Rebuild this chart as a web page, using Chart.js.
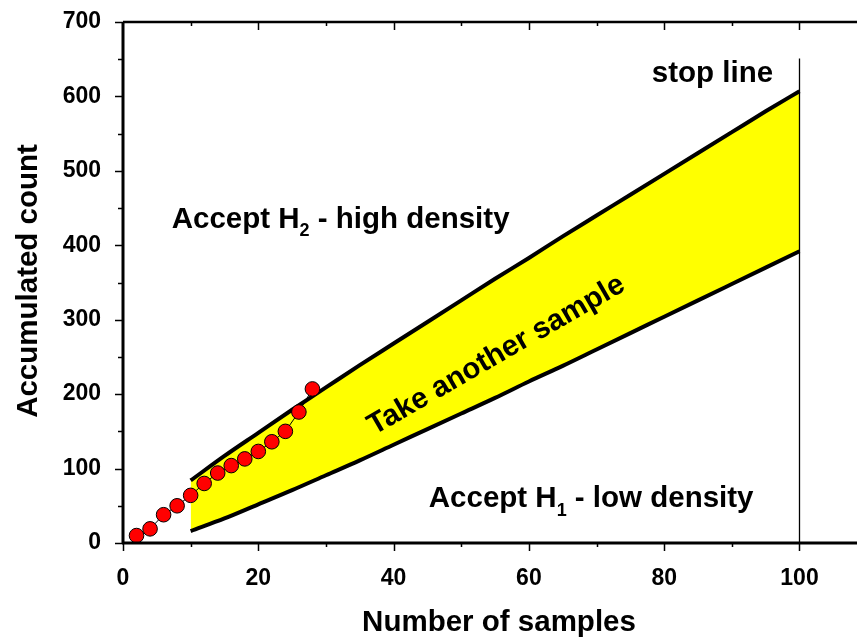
<!DOCTYPE html>
<html><head><meta charset="utf-8">
<script src="https://cdn.jsdelivr.net/npm/chart.js@4/dist/chart.umd.min.js"></script>
<style>html,body{margin:0;padding:0;background:#fff;}#wrap{width:857px;height:641px;position:relative;}</style>
</head><body><div id="wrap"><canvas id="c" width="857" height="641"></canvas></div>
<script>
// ---- data ----
const sampleX = [2,4,6,8,10,12,14,16,18,20,22,24,26,28];
const sampleCount = [10,19,38,50,64,80,94,104,113,123,136,150,176,207];
const boundaryX = [10,15,20,25,30,35,40,45,50,55,60,65,70,75,80,85,90,95,100];
const upperBoundary = [84,117,148,179,209,239,268,297,326,355,383,412,440,468,496,524,552,580,607];
const lowerBoundary = [16,33,52,71,91,111,132,153,174,195,217,238,260,282,304,326,348,370,392];
const stopLineX = [100,100];
const stopLineY = [0,651];
const xTickLabels = [0,20,40,60,80,100];
const yTickLabels = [0,100,200,300,400,500,600,700];

const FONT = "'Liberation Sans', Arial, Helvetica, sans-serif";
const pts = (xs, ys) => xs.map((v,i)=>({x:v, y:ys[i]}));

const minorOf = arr => arr.slice(0,-1).map((v,i)=>(v+arr[i+1])/2);

const axesPlugin = {
  id:'axesDraw',
  afterDatasetsDraw(chart){
    const {ctx, chartArea:a, scales:{x,y}} = chart;
    ctx.save();
    ctx.strokeStyle = '#000';
    ctx.lineWidth = 1.5;
    ctx.beginPath();
    const xMin = minorOf(xTickLabels);
    xTickLabels.forEach(v=>{const p=Math.round(x.getPixelForValue(v))+0.5;
      ctx.moveTo(p,a.bottom); ctx.lineTo(p,a.bottom+8);
      if(v>0){ctx.moveTo(p,a.top); ctx.lineTo(p,a.top+8);} });
    xMin.forEach(v=>{const p=Math.round(x.getPixelForValue(v))+0.5;
      ctx.moveTo(p,a.bottom); ctx.lineTo(p,a.bottom+4);
      ctx.moveTo(p,a.top); ctx.lineTo(p,a.top+4); });
    yTickLabels.forEach(v=>{const p=Math.round(y.getPixelForValue(v))+0.5;
      ctx.moveTo(a.left,p); ctx.lineTo(a.left-8,p); });
    minorOf(yTickLabels).forEach(v=>{const p=Math.round(y.getPixelForValue(v))+0.5;
      ctx.moveTo(a.left,p); ctx.lineTo(a.left-5,p); });
    ctx.stroke();
    // axis lines
    ctx.lineWidth = 3;
    ctx.beginPath();
    ctx.moveTo(a.left, a.top); ctx.lineTo(a.left, a.bottom+1);
    ctx.moveTo(a.left-1, a.bottom); ctx.lineTo(a.right, a.bottom);
    ctx.stroke();
    ctx.lineWidth = 2.5;
    ctx.beginPath();
    ctx.moveTo(a.left, a.top); ctx.lineTo(a.right, a.top);
    ctx.stroke();
    ctx.restore();
  }
};

const annotations = [
  {parts:[['stop line',0]], x:96.1, y:620, align:'right', size:29.5},
  {parts:[['Accept H',0],['2',1],[' - high density',0]], x:7.2, y:423, align:'left', size:29.5},
  {parts:[['Accept H',0],['1',1],[' - low density',0]], x:45.2, y:48, align:'left', size:29.5},
  {parts:[['Take another sample',0]], x:55.2, y:252, align:'center', size:29.5, rot:-30, baseline:'middle'}
];

const textPlugin = {
  id:'texts',
  afterDraw(chart){
    const {ctx, scales:{x,y}} = chart;
    ctx.save();
    ctx.fillStyle = '#000';
    annotations.forEach(an=>{
      const px = x.getPixelForValue(an.x), py = y.getPixelForValue(an.y);
      const main = `bold ${an.size}px ${FONT}`, sub = `bold ${Math.round(an.size*0.6)}px ${FONT}`;
      let total = 0;
      an.parts.forEach(([t,s])=>{ctx.font = s?sub:main; total += ctx.measureText(t).width;});
      ctx.save();
      ctx.translate(px, py);
      if(an.rot) ctx.rotate(an.rot*Math.PI/180);
      ctx.textBaseline = an.baseline || 'alphabetic';
      ctx.textAlign = 'left';
      let cx = an.align==='left'?0:(an.align==='right'?-total:-total/2);
      an.parts.forEach(([t,s])=>{
        ctx.font = s?sub:main;
        ctx.fillText(t, cx, s? an.size*0.28 : 0);
        cx += ctx.measureText(t).width;
      });
      ctx.restore();
    });
    // axis titles
    ctx.font = `bold 29.5px ${FONT}`;
    ctx.textAlign = 'center';
    ctx.textBaseline = 'alphabetic';
    ctx.fillText('Number of samples', 499, 631);
    ctx.save();
    ctx.translate(37, 281);
    ctx.rotate(-Math.PI/2);
    ctx.fillText('Accumulated count', 0, 0);
    ctx.restore();
    ctx.restore();
  }
};

const noPad = s => { s.paddingTop = 0; s.paddingBottom = 0; s.paddingLeft = 0; s.paddingRight = 0; };

const ctx = document.getElementById('c').getContext('2d');
new Chart(ctx, {
  type:'scatter',
  data:{datasets:[
    {label:'Samples', data:pts(sampleX, sampleCount), showLine:true, borderColor:'#000', borderWidth:1,
     pointRadius:7.3, pointHoverRadius:7.3, pointBackgroundColor:'#ff0000', pointBorderColor:'#000', pointBorderWidth:1},
    {label:'Stop line', data:pts(stopLineX, stopLineY), showLine:true, borderColor:'#000', borderWidth:1.3, pointRadius:0},
    {label:'Upper', data:pts(boundaryX, upperBoundary), showLine:true, borderColor:'#000', borderWidth:4, pointRadius:0,
     fill:'+1', backgroundColor:'#ffff00', cubicInterpolationMode:'monotone'},
    {label:'Lower', data:pts(boundaryX, lowerBoundary), showLine:true, borderColor:'#000', borderWidth:4, pointRadius:0,
     cubicInterpolationMode:'monotone'}
  ]},
  options:{
    responsive:false, animation:false, devicePixelRatio:1,
    layout:{autoPadding:false, padding:{top:22, left:0, right:0, bottom:0}},
    plugins:{legend:{display:false}, tooltip:{enabled:false}, filler:{drawTime:'beforeDatasetsDraw'}},
    scales:{
      x:{type:'linear', min:0, max:108.5,
         afterBuildTicks: s=>{s.ticks = xTickLabels.map(v=>({value:v}));},
         afterFit: s=>{s.height = 98; noPad(s);},
         grid:{display:false, drawTicks:false}, border:{display:false},
         ticks:{padding:22, color:'#000', font:{family:FONT, size:23, weight:'bold'}, maxRotation:0}},
      y:{type:'linear', min:0, max:700,
         afterBuildTicks: s=>{s.ticks = yTickLabels.map(v=>({value:v}));},
         afterFit: s=>{s.width = 123; noPad(s);},
         grid:{display:false, drawTicks:false}, border:{display:false},
         ticks:{padding:22, color:'#000', font:{family:FONT, size:23, weight:'bold'}}}
    }
  },
  plugins:[axesPlugin, textPlugin]
});
</script></body></html>
